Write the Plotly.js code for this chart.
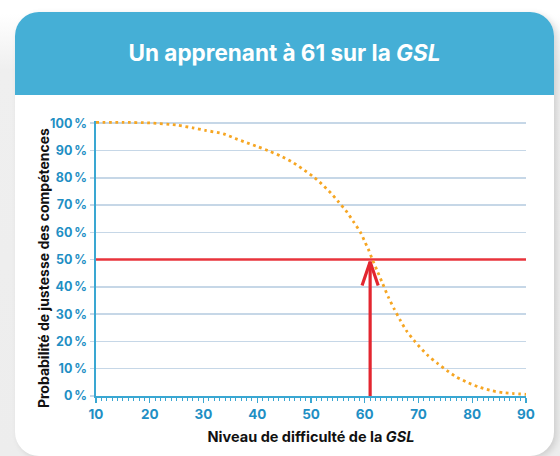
<!DOCTYPE html>
<html>
<head>
<meta charset="utf-8">
<script src="https://cdn.plot.ly/plotly-3.0.1.min.js"></script>
<style>
  html, body { margin:0; padding:0; }
  body { width:560px; height:456px; position:relative; overflow:hidden;
         background: linear-gradient(to bottom, #ffffff 0px, #ffffff 14px, #efefef 70px, #ededed 456px); }
  #card { position:absolute; left:15px; top:12px; width:539px; height:444px;
          background:#ffffff; border-radius:24px; overflow:hidden;
          box-shadow: 3px 2px 6px rgba(0,0,0,0.13); }
  #head { position:absolute; left:0; top:0; width:539px; height:83px; background:#45afd6; }
  #chart { position:absolute; left:0; top:0; width:560px; height:456px; }
</style>
</head>
<body>
<div id="card"><div id="head"></div></div>
<div id="chart"></div>
<script>
// ---- data ----
const difficulty = [10, 15, 20, 25, 28, 30.3, 33.7, 35.9, 38.1, 40.2, 42.3, 44.3, 46.3, 48.3, 50.3, 52, 53.7, 55.1, 56.7, 57.9, 59.2, 60.1, 60.8, 61.3, 62.3, 63.2, 64.4, 65.5, 66.6, 67.8, 69.4, 71.6, 73.5, 75.3, 77.1, 79.3, 81.5, 83.7, 85.8, 87.7, 90];
const probability = [100.3, 100.3, 100.1, 99.3, 98.3, 97.4, 96.1, 94.4, 92.8, 91.3, 89.7, 88.0, 86.0, 83.4, 80.6, 77.7, 74.4, 71.2, 67.4, 63.9, 60.0, 56.2, 53.2, 50.6, 46.0, 41.8, 36.2, 31.8, 27.8, 23.8, 19.8, 15.1, 12.0, 9.3, 6.9, 4.8, 3.1, 1.9, 1.2, 0.9, 0.6];
const learnerScore = 61;
const threshold = 50;
const xTicks = [10, 20, 30, 40, 50, 60, 70, 80, 90];
const yTicks = [0, 10, 20, 30, 40, 50, 60, 70, 80, 90, 100];
const yTickText = ['0\u202f%', '10\u202f%', '20\u202f%', '30\u202f%', '40\u202f%', '50\u202f%', '60\u202f%', '70\u202f%', '80\u202f%', '90\u202f%', '100\u202f%'];
const xRange = [10, 90];
const yRange = [0, 100.8];

// arrowhead geometry (style): arm length/width in data units
const armDx = 1.5, armDy = 8.7, tipGap = 0.8;

const FONT = 'Inter, Roboto, "Liberation Sans", sans-serif';
const BLUE = '#1f8fc4';
const RED = '#e3262f';

const traces = [
  { x: xRange, y: [threshold, threshold], mode: 'lines', hoverinfo: 'skip',
    line: { color: '#e8343c', width: 2.5 } },
  { x: [learnerScore, learnerScore], y: [yRange[0], threshold - tipGap], mode: 'lines', hoverinfo: 'skip',
    line: { color: RED, width: 3.2 } },
  { x: [learnerScore - armDx, learnerScore, learnerScore + armDx],
    y: [threshold - tipGap - armDy, threshold - tipGap, threshold - tipGap - armDy],
    mode: 'lines', hoverinfo: 'skip', line: { color: RED, width: 3.2 } },
  { x: difficulty, y: probability, mode: 'lines', hoverinfo: 'skip',
    line: { color: '#f6a623', width: 2.8, dash: '2.8px,3.6px', shape: 'spline', smoothing: 0.6 } }
];

const layout = {
  width: 560, height: 456,
  margin: { l: 96, r: 34.3, t: 123.3 - 0.8 * 2.724, b: 60.3 },
  paper_bgcolor: 'rgba(0,0,0,0)',
  plot_bgcolor: 'rgba(0,0,0,0)',
  showlegend: false,
  font: { family: FONT },
  title: { text: 'Un apprenant à 61 sur la <i>GSL</i>', xref: 'container', yref: 'container',
           x: 284.5 / 560, y: 1 - 53 / 456, xanchor: 'center', yanchor: 'middle',
           font: { family: FONT, size: 22.5, color: '#ffffff', weight: 700 } },
  xaxis: {
    range: xRange, tickvals: xTicks, showgrid: false, zeroline: false,
    showline: true, linecolor: '#3aa7d2', linewidth: 2,
    ticks: 'outside', ticklen: 5, tickwidth: 1.2, tickcolor: '#3aa7d2',
    minor: { dtick: 1, ticks: 'outside', ticklen: 3, tickwidth: 1, tickcolor: '#3aa7d2', showgrid: false },
    tickfont: { family: FONT, size: 13.5, color: BLUE, weight: 700 },
    title: { text: 'Niveau de difficulté de la <i>GSL</i>', standoff: 11,
             font: { family: FONT, size: 14.5, color: '#111111', weight: 700 } },
    fixedrange: true
  },
  yaxis: {
    range: yRange, tickvals: yTicks, ticktext: yTickText, zeroline: false,
    showgrid: true, gridcolor: '#c6d7e7', gridwidth: 1.5,
    showline: true, linecolor: '#3aa7d2', linewidth: 2.5,
    ticks: 'outside', ticklen: 4, tickwidth: 1.5, tickcolor: '#c6d7e7',
    tickfont: { family: FONT, size: 12.5, color: BLUE, weight: 700 },
    fixedrange: true
  },
  annotations: [
    { text: 'Probabilité de justesse des compétences', textangle: -90,
      xref: 'paper', yref: 'paper', x: (43 - 96) / 429.7, y: (395.7 - 268) / 274.6,
      xanchor: 'center', yanchor: 'middle', showarrow: false,
      font: { family: FONT, size: 14, color: '#111111', weight: 700 } }
  ]
};

Plotly.newPlot('chart', traces, layout, { staticPlot: true, displayModeBar: false });
</script>
</body>
</html>
